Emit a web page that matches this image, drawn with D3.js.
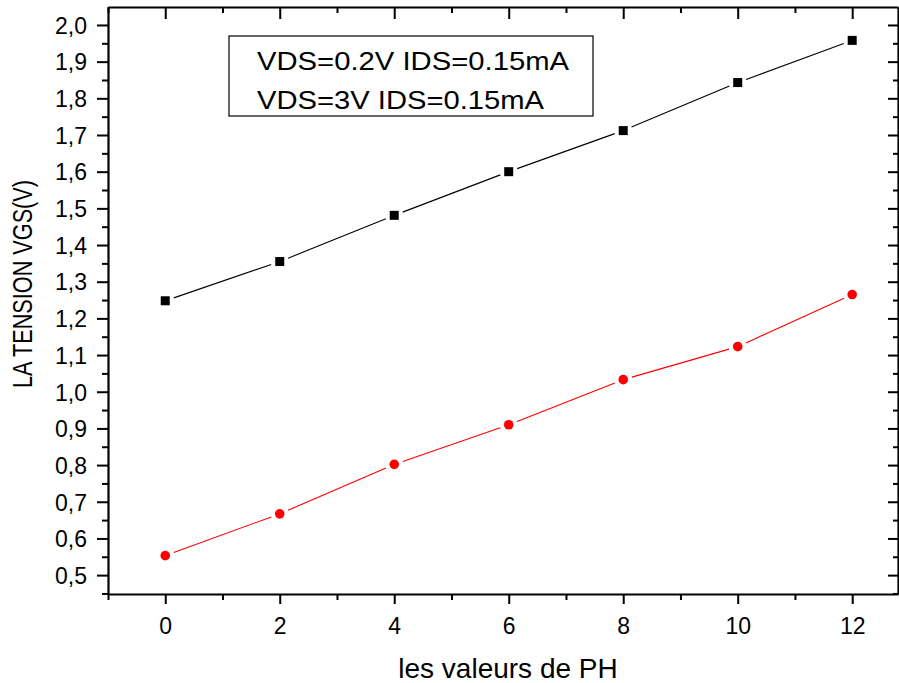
<!DOCTYPE html>
<html lang="en">
<head>
<meta charset="UTF-8">
<title>VGS vs PH</title>
<script src="https://d3js.org/d3.v7.min.js"></script>
<style>
  body { margin: 0; background: #fff; }
  svg { font-family: Arial, "Liberation Sans", sans-serif; }
</style>
</head>
<body>
<div id="chart"></div>
<script>
// data
const phValues = [0, 2, 4, 6, 8, 10, 12];
const vgsLow = [1.248, 1.355, 1.481, 1.600, 1.712, 1.843, 1.958];   // VDS=0.2V
const vgsHigh = [0.553, 0.667, 0.802, 0.910, 1.033, 1.123, 1.265];  // VDS=3V
const legendLabels = ["VDS=0.2V IDS=0.15mA", "VDS=3V IDS=0.15mA"];
const xTicks = [0, 2, 4, 6, 8, 10, 12];
const yTicks = [0.5, 0.6, 0.7, 0.8, 0.9, 1.0, 1.1, 1.2, 1.3, 1.4, 1.5, 1.6, 1.7, 1.8, 1.9, 2.0];

const width = 899, height = 683;
const plotLeft = 108, plotRight = 898, plotTop = 7, plotBottom = 594;
const font = "Arial, 'Liberation Sans', sans-serif";

const svg = d3.select("#chart").append("svg")
    .attr("width", width).attr("height", height);

const x = d3.scaleLinear().domain([-1, 12.8]).range([plotLeft, plotRight]);
const y = d3.scaleLinear().domain([0.4485, 2.049]).range([plotBottom, plotTop]);

const fmt = d => d3.format(".1f")(d).replace(".", ",");

// minor tick values
const xMinor = d3.range(-1, 13, 2);
const yMinor = d3.range(0.45, 2.05, 0.1).map(v => +v.toFixed(2));

function axis(gen, tr, major, minor, fmtFn, size, minorSize, withLabels) {
    const g = svg.append("g").attr("transform", tr);
    g.call(gen().tickValues(major).tickSize(size).tickSizeOuter(0)
        .tickFormat(withLabels ? fmtFn : ""));
    g.append("g").call(gen().tickValues(minor).tickSize(minorSize).tickFormat(""))
        .select(".domain").remove();
    g.attr("font-family", font).attr("font-size", 23);
    g.selectAll("line").attr("stroke", "#000").attr("stroke-width", 2);
    g.selectAll(".domain").attr("stroke", "#000").attr("stroke-width", 2.2);
    return g;
}

// bottom
const gx = axis(() => d3.axisBottom(x), `translate(0,${plotBottom})`, xTicks, xMinor, d => d, 10, 6, true);
gx.selectAll("text").attr("fill", "#000").attr("dy", 0).attr("y", 40);
// top (ticks inward)
axis(() => d3.axisBottom(x), `translate(0,${plotTop})`, xTicks, xMinor, null, 12, 6, false);
// left
const gy = axis(() => d3.axisLeft(y), `translate(${plotLeft},0)`, yTicks, yMinor, fmt, 11, 6, true);
gy.selectAll("text").attr("fill", "#000").attr("x", -21).attr("dy", "0.36em");
// right (ticks inward)
axis(() => d3.axisLeft(y), `translate(${plotRight},0)`, yTicks, yMinor, null, 10, 5, false);

// series: lines with a gap at each marker
function drawSeries(vals, color, shape) {
    const pts = phValues.map((p, i) => [x(p), y(vals[i])]);
    const gap = 9;
    for (let i = 0; i < pts.length - 1; i++) {
        const [x0, y0] = pts[i], [x1, y1] = pts[i + 1];
        const len = Math.hypot(x1 - x0, y1 - y0);
        const ux = (x1 - x0) / len, uy = (y1 - y0) / len;
        svg.append("line")
            .attr("x1", x0 + ux * gap).attr("y1", y0 + uy * gap)
            .attr("x2", x1 - ux * gap).attr("y2", y1 - uy * gap)
            .attr("stroke", color).attr("stroke-width", 1.1);
    }
    if (shape === "square") {
        svg.selectAll(null).data(pts).join("rect")
            .attr("x", d => d[0] - 4.5).attr("y", d => d[1] - 4.5)
            .attr("width", 9).attr("height", 9).attr("fill", color);
    } else {
        svg.selectAll(null).data(pts).join("circle")
            .attr("cx", d => d[0]).attr("cy", d => d[1]).attr("r", 4.8).attr("fill", color);
    }
}
drawSeries(vgsLow, "#000", "square");
drawSeries(vgsHigh, "#ff0000", "circle");

// legend box
svg.append("rect").attr("x", 229).attr("y", 36).attr("width", 364).attr("height", 80)
    .attr("fill", "none").attr("stroke", "#000").attr("stroke-width", 1.2);
const legendWidths = [312, 287];
legendLabels.forEach((t, i) => {
    svg.append("text").attr("x", 257).attr("y", 70 + i * 39)
        .attr("font-size", 25).attr("textLength", legendWidths[i])
        .attr("lengthAdjust", "spacingAndGlyphs").text(t);
});

// axis titles
svg.append("text").attr("transform", `translate(32,284) rotate(-90)`)
    .attr("text-anchor", "middle").attr("font-size", 28)
    .attr("textLength", 208).attr("lengthAdjust", "spacingAndGlyphs")
    .text("LA TENSION VGS(V)");
svg.append("text").attr("x", 508).attr("y", 678)
    .attr("text-anchor", "middle").attr("font-size", 28)
    .text("les valeurs de PH");
</script>
</body>
</html>
